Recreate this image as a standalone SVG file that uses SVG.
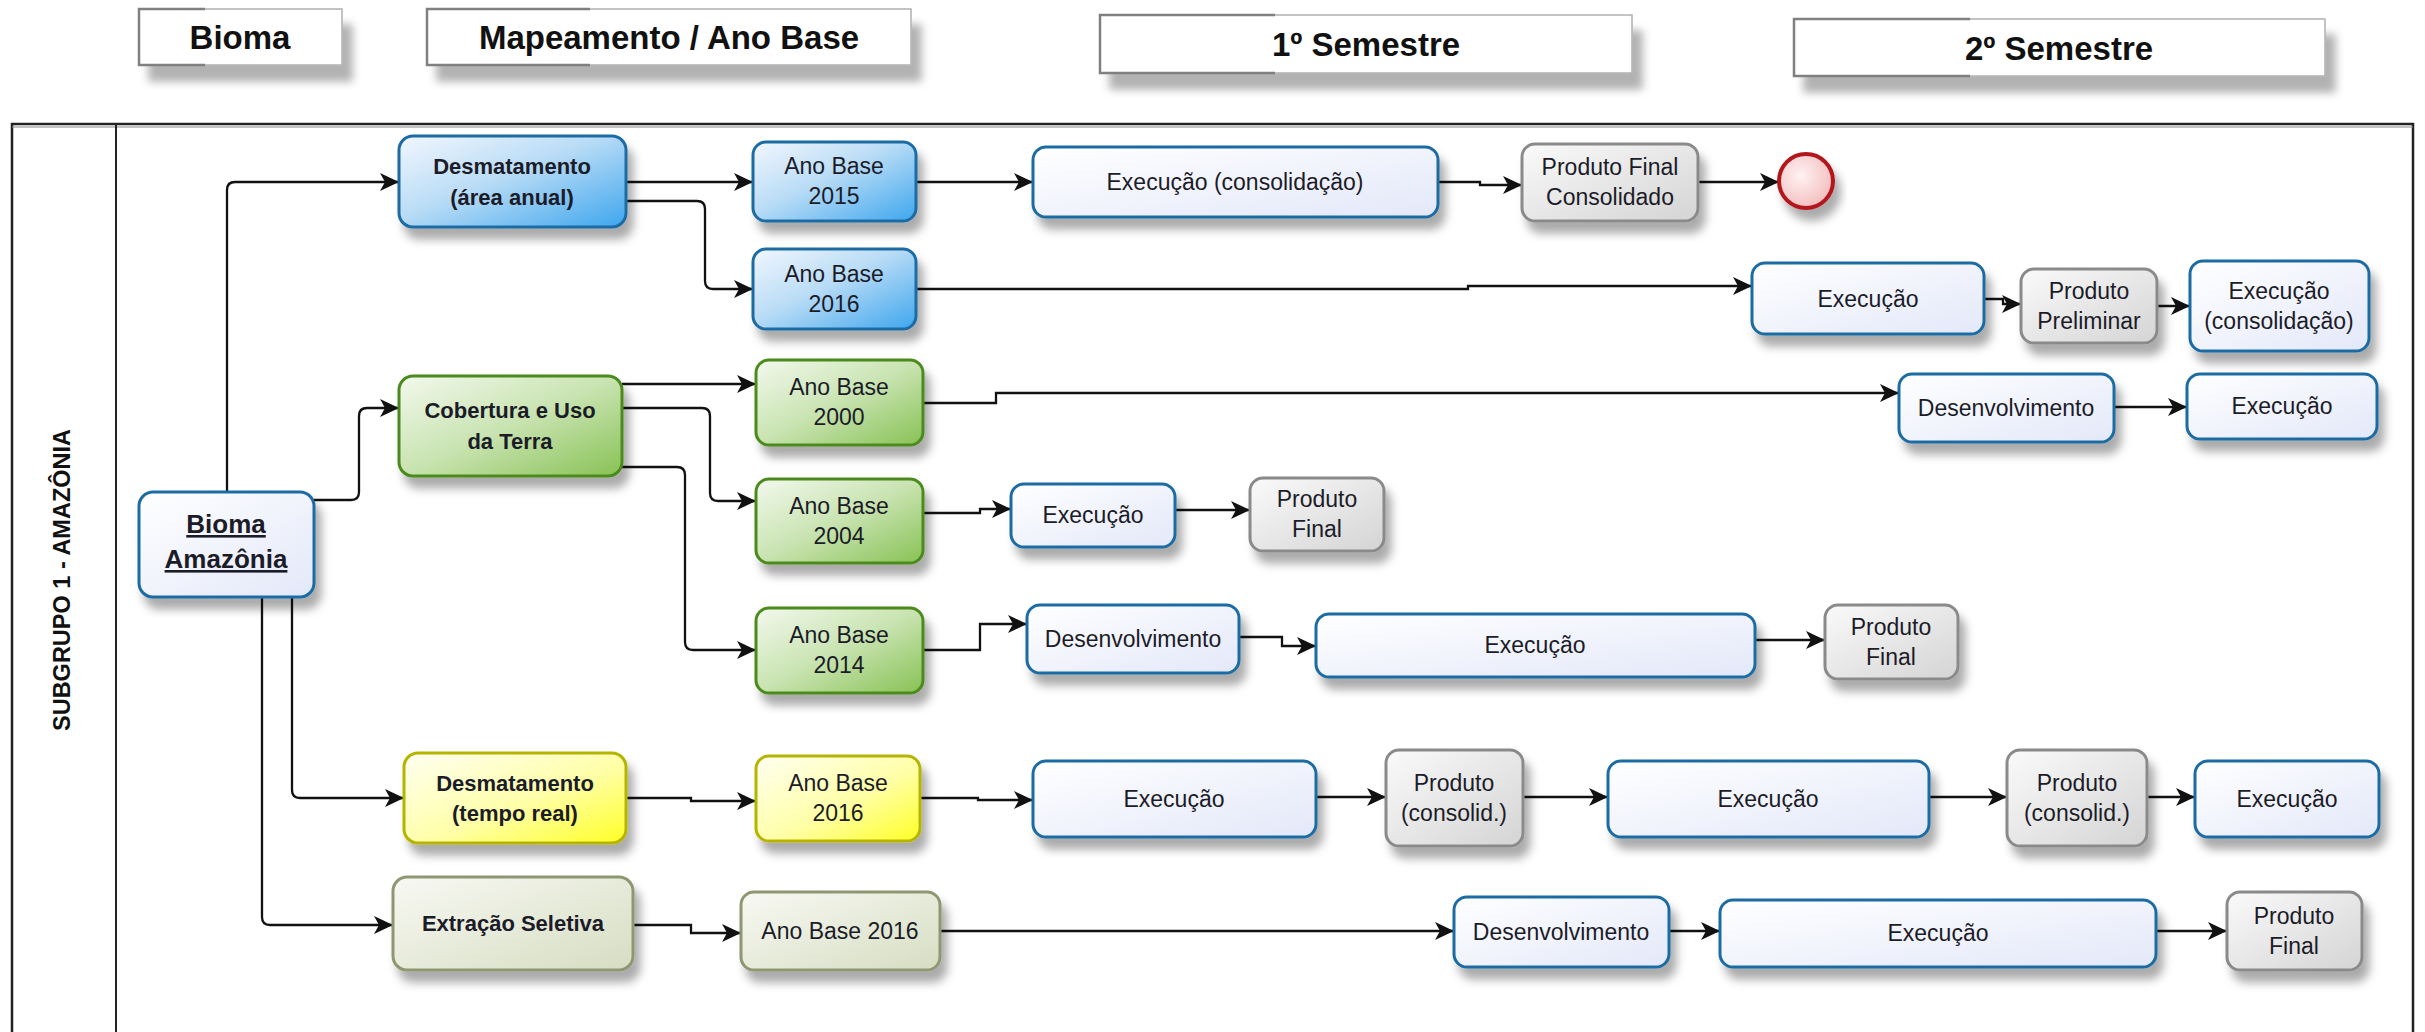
<svg xmlns="http://www.w3.org/2000/svg" width="2425" height="1032" viewBox="0 0 2425 1032">
<defs>
<style>
.t{font-family:"Liberation Sans",Arial,sans-serif;font-size:23px;fill:#1c1c28;text-anchor:middle}
.b{font-weight:bold;font-size:22px}
.hd{font-family:"Liberation Sans",Arial,sans-serif;font-size:33px;font-weight:bold;fill:#111;text-anchor:middle}
.task{fill:url(#gTask);stroke:#1d6ca3;stroke-width:3}
.prod{fill:url(#gProd);stroke:#8a8a8a;stroke-width:3}
.blue{fill:url(#gBlue);stroke:#1d6ca3;stroke-width:3}
.green{fill:url(#gGreen);stroke:#4c8a1c;stroke-width:3}
.yel{fill:url(#gYel);stroke:#b5b400;stroke-width:3}
.oli{fill:url(#gOli);stroke:#8d9872;stroke-width:3}
.hbox{fill:#fff;stroke:#b0b0b0;stroke-width:1.5}
.hdark{stroke:#808080;stroke-width:2.5;fill:none}
.c{fill:none;stroke:#111;stroke-width:2.3;marker-end:url(#arr)}
</style>
<linearGradient id="gTask" x1="0" y1="0" x2="1" y2="1"><stop offset="0" stop-color="#ffffff"/><stop offset="1" stop-color="#e3e8f9"/></linearGradient>
<linearGradient id="gProd" x1="0" y1="0" x2="1" y2="1"><stop offset="0" stop-color="#fafafa"/><stop offset="1" stop-color="#d4d4d4"/></linearGradient>
<linearGradient id="gBlue" x1="0" y1="0" x2="1" y2="1"><stop offset="0" stop-color="#f2f7fd"/><stop offset="0.45" stop-color="#b9dcf6"/><stop offset="1" stop-color="#3ea6ee"/></linearGradient>
<linearGradient id="gGreen" x1="0" y1="0" x2="1" y2="1"><stop offset="0" stop-color="#f3f9ee"/><stop offset="0.5" stop-color="#c8e3b0"/><stop offset="1" stop-color="#88c255"/></linearGradient>
<linearGradient id="gYel" x1="0" y1="0" x2="1" y2="1"><stop offset="0" stop-color="#fffff2"/><stop offset="0.55" stop-color="#ffffa8"/><stop offset="1" stop-color="#ffff26"/></linearGradient>
<linearGradient id="gOli" x1="0" y1="0" x2="1" y2="1"><stop offset="0" stop-color="#f8f9f3"/><stop offset="1" stop-color="#d6ddc2"/></linearGradient>
<radialGradient id="gEnd" cx="0.4" cy="0.4" r="0.7"><stop offset="0" stop-color="#fff2f2"/><stop offset="1" stop-color="#f2b8b8"/></radialGradient>
<filter id="sh" x="-15%" y="-20%" width="140%" height="170%"><feDropShadow dx="6" dy="11" stdDeviation="5" flood-color="#000" flood-opacity="0.33"/></filter>
<filter id="hsh" x="-10%" y="-20%" width="130%" height="190%"><feDropShadow dx="10" dy="16" stdDeviation="4" flood-color="#000" flood-opacity="0.3"/></filter>
<marker id="arr" markerUnits="userSpaceOnUse" markerWidth="20" markerHeight="18" refX="19" refY="9" orient="auto"><path d="M0,0 L19,9 L0,18 L5,9 z" fill="#111"/></marker>
</defs>

<rect x="0" y="0" width="2425" height="1032" fill="#fff"/>

<!-- header -->
<g id="hdr-bioma"><rect class="hbox" x="139" y="9" width="203" height="56" filter="url(#hsh)"/><path class="hdark" d="M205,9 H139 V65 H205"/><text class="hd" x="240" y="49">Bioma</text></g>
<g id="hdr-mapeamento"><rect class="hbox" x="427" y="9" width="484" height="56" filter="url(#hsh)"/><path class="hdark" d="M590,9 H427 V65 H590"/><text class="hd" x="669" y="49">Mapeamento / Ano Base</text></g>
<g id="hdr-sem1"><rect class="hbox" x="1100" y="15" width="532" height="58" filter="url(#hsh)"/><path class="hdark" d="M1275,15 H1100 V73 H1275"/><text class="hd" x="1366" y="56">1º Semestre</text></g>
<g id="hdr-sem2"><rect class="hbox" x="1794" y="19" width="531" height="57" filter="url(#hsh)"/><path class="hdark" d="M1970,19 H1794 V76 H1970"/><text class="hd" x="2059" y="60">2º Semestre</text></g>

<!-- lane -->
<g id="lane">
<rect x="12" y="124" width="2401" height="960" fill="none" stroke="#222" stroke-width="2.5"/>
<line x1="12" y1="127" x2="2413" y2="127" stroke="#888" stroke-width="1"/>
<line x1="116" y1="124" x2="116" y2="1032" stroke="#222" stroke-width="2"/>
<text transform="translate(70,580) rotate(-90)" style="font-family:'Liberation Sans',Arial,sans-serif;font-size:23.5px;font-weight:bold;fill:#111;text-anchor:middle">SUBGRUPO 1 - AMAZÔNIA</text>
</g>

<!-- connectors -->
<g id="connectors">
<path class="c" d="M227,492 V190 Q227,182 235,182 H399"/>
<path class="c" d="M314,500 H351 Q359,500 359,492 V416 Q359,408 367,408 H399"/>
<path class="c" d="M292,597 V790 Q292,798 300,798 H404"/>
<path class="c" d="M262,597 V917 Q262,925 270,925 H393"/>
<path class="c" d="M626,182 H753"/>
<path class="c" d="M626,201 H697 Q705,201 705,209 V281 Q705,289 713,289 H753"/>
<path class="c" d="M622,384 H756"/>
<path class="c" d="M622,408 H702 Q710,408 710,416 V493 Q710,501 718,501 H756"/>
<path class="c" d="M622,467 H677 Q685,467 685,475 V642 Q685,650 693,650 H756"/>
<path class="c" d="M626,798 H691 V801 H756"/>
<path class="c" d="M633,925 H691 V933 H741"/>
<path class="c" d="M916,182 H1033"/>
<path class="c" d="M1438,182 H1480 V185 H1522"/>
<path class="c" d="M1698,182 H1779"/>
<path class="c" d="M916,289 H1468 V286 H1752"/>
<path class="c" d="M1984,299 H2003 V304 H2021"/>
<path class="c" d="M2157,306 H2190"/>
<path class="c" d="M923,403 H996 V393 H1899"/>
<path class="c" d="M2114,407 H2187"/>
<path class="c" d="M923,513 H980 V509 H1011"/>
<path class="c" d="M1175,510 H1250"/>
<path class="c" d="M923,650 H980 V624 H1027"/>
<path class="c" d="M1239,637 H1282 V646 H1316"/>
<path class="c" d="M1755,640 H1825"/>
<path class="c" d="M920,798 H978 V800 H1033"/>
<path class="c" d="M1316,797 H1386"/>
<path class="c" d="M1523,797 H1608"/>
<path class="c" d="M1929,797 H2007"/>
<path class="c" d="M2147,797 H2195"/>
<path class="c" d="M940,931 H1454"/>
<path class="c" d="M1669,931 H1720"/>
<path class="c" d="M2156,931 H2227"/>
</g>

<!-- nodes -->
<g id="bioma-amazonia"><rect class="task" x="139" y="492" width="175" height="105" rx="14" filter="url(#sh)"/><text class="t" style="font-weight:bold;font-size:26px;text-decoration:underline" x="226" y="533">Bioma</text><text class="t" style="font-weight:bold;font-size:26px;text-decoration:underline" x="226" y="568">Amazônia</text></g>

<g id="desm-anual"><rect class="blue" x="399" y="136" width="227" height="91" rx="14" filter="url(#sh)"/><text class="t b" x="512" y="174">Desmatamento</text><text class="t b" x="512" y="205">(área anual)</text></g>
<g id="cobertura"><rect class="green" x="399" y="376" width="223" height="100" rx="14" filter="url(#sh)"/><text class="t b" x="510" y="418">Cobertura e Uso</text><text class="t b" x="510" y="449">da Terra</text></g>
<g id="desm-tr"><rect class="yel" x="404" y="753" width="222" height="90" rx="14" filter="url(#sh)"/><text class="t b" x="515" y="791">Desmatamento</text><text class="t b" x="515" y="821">(tempo real)</text></g>
<g id="extracao"><rect class="oli" x="393" y="877" width="240" height="93" rx="14" filter="url(#sh)"/><text class="t b" x="513" y="931">Extração Seletiva</text></g>

<g id="ab2015"><rect class="blue" x="753" y="142" width="163" height="79" rx="13" filter="url(#sh)"/><text class="t" x="834" y="174">Ano Base</text><text class="t" x="834" y="204">2015</text></g>
<g id="ab2016b"><rect class="blue" x="753" y="249" width="163" height="80" rx="13" filter="url(#sh)"/><text class="t" x="834" y="282">Ano Base</text><text class="t" x="834" y="312">2016</text></g>
<g id="ab2000"><rect class="green" x="756" y="360" width="167" height="85" rx="13" filter="url(#sh)"/><text class="t" x="839" y="395">Ano Base</text><text class="t" x="839" y="425">2000</text></g>
<g id="ab2004"><rect class="green" x="756" y="479" width="167" height="84" rx="13" filter="url(#sh)"/><text class="t" x="839" y="514">Ano Base</text><text class="t" x="839" y="544">2004</text></g>
<g id="ab2014"><rect class="green" x="756" y="608" width="167" height="85" rx="13" filter="url(#sh)"/><text class="t" x="839" y="643">Ano Base</text><text class="t" x="839" y="673">2014</text></g>
<g id="ab2016y"><rect class="yel" x="756" y="756" width="164" height="85" rx="13" filter="url(#sh)"/><text class="t" x="838" y="791">Ano Base</text><text class="t" x="838" y="821">2016</text></g>
<g id="ab2016o"><rect class="oli" x="741" y="892" width="199" height="78" rx="13" filter="url(#sh)"/><text class="t" x="840" y="939">Ano Base 2016</text></g>

<g id="r1-exec"><rect class="task" x="1033" y="147" width="405" height="70" rx="13" filter="url(#sh)"/><text class="t" x="1235" y="190">Execução (consolidação)</text></g>
<g id="r1-prod"><rect class="prod" x="1522" y="144" width="176" height="77" rx="13" filter="url(#sh)"/><text class="t" x="1610" y="175">Produto Final</text><text class="t" x="1610" y="205">Consolidado</text></g>
<g id="r1-end"><circle cx="1806" cy="181" r="27" fill="url(#gEnd)" stroke="#b3191c" stroke-width="4" filter="url(#sh)"/></g>

<g id="r2-exec"><rect class="task" x="1752" y="263" width="232" height="71" rx="13" filter="url(#sh)"/><text class="t" x="1868" y="307">Execução</text></g>
<g id="r2-prod"><rect class="prod" x="2021" y="269" width="136" height="74" rx="13" filter="url(#sh)"/><text class="t" x="2089" y="299">Produto</text><text class="t" x="2089" y="329">Preliminar</text></g>
<g id="r2-exec2"><rect class="task" x="2190" y="261" width="179" height="90" rx="13" filter="url(#sh)"/><text class="t" x="2279" y="299">Execução</text><text class="t" x="2279" y="329">(consolidação)</text></g>

<g id="r3-desenv"><rect class="task" x="1899" y="374" width="215" height="68" rx="13" filter="url(#sh)"/><text class="t" x="2006" y="416">Desenvolvimento</text></g>
<g id="r3-exec"><rect class="task" x="2187" y="374" width="190" height="65" rx="13" filter="url(#sh)"/><text class="t" x="2282" y="414">Execução</text></g>

<g id="r4-exec"><rect class="task" x="1011" y="484" width="164" height="63" rx="13" filter="url(#sh)"/><text class="t" x="1093" y="523">Execução</text></g>
<g id="r4-prod"><rect class="prod" x="1250" y="478" width="134" height="73" rx="13" filter="url(#sh)"/><text class="t" x="1317" y="507">Produto</text><text class="t" x="1317" y="537">Final</text></g>

<g id="r5-desenv"><rect class="task" x="1027" y="605" width="212" height="68" rx="13" filter="url(#sh)"/><text class="t" x="1133" y="647">Desenvolvimento</text></g>
<g id="r5-exec"><rect class="task" x="1316" y="614" width="439" height="63" rx="13" filter="url(#sh)"/><text class="t" x="1535" y="653">Execução</text></g>
<g id="r5-prod"><rect class="prod" x="1825" y="605" width="133" height="74" rx="13" filter="url(#sh)"/><text class="t" x="1891" y="635">Produto</text><text class="t" x="1891" y="665">Final</text></g>

<g id="r6-exec1"><rect class="task" x="1033" y="761" width="283" height="76" rx="13" filter="url(#sh)"/><text class="t" x="1174" y="807">Execução</text></g>
<g id="r6-prod1"><rect class="prod" x="1386" y="750" width="137" height="96" rx="13" filter="url(#sh)"/><text class="t" x="1454" y="791">Produto</text><text class="t" x="1454" y="821">(consolid.)</text></g>
<g id="r6-exec2"><rect class="task" x="1608" y="761" width="321" height="76" rx="13" filter="url(#sh)"/><text class="t" x="1768" y="807">Execução</text></g>
<g id="r6-prod2"><rect class="prod" x="2007" y="750" width="140" height="96" rx="13" filter="url(#sh)"/><text class="t" x="2077" y="791">Produto</text><text class="t" x="2077" y="821">(consolid.)</text></g>
<g id="r6-exec3"><rect class="task" x="2195" y="761" width="184" height="76" rx="13" filter="url(#sh)"/><text class="t" x="2287" y="807">Execução</text></g>

<g id="r7-desenv"><rect class="task" x="1454" y="897" width="215" height="70" rx="13" filter="url(#sh)"/><text class="t" x="1561" y="940">Desenvolvimento</text></g>
<g id="r7-exec"><rect class="task" x="1720" y="900" width="436" height="67" rx="13" filter="url(#sh)"/><text class="t" x="1938" y="941">Execução</text></g>
<g id="r7-prod"><rect class="prod" x="2227" y="892" width="135" height="78" rx="13" filter="url(#sh)"/><text class="t" x="2294" y="924">Produto</text><text class="t" x="2294" y="954">Final</text></g>
</svg>
